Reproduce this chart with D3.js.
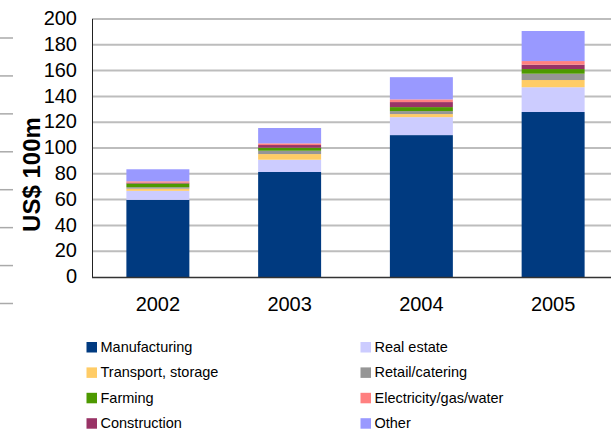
<!DOCTYPE html>
<html><head><meta charset="utf-8">
<script src="https://cdn.jsdelivr.net/npm/d3@7"></script>
<style>html,body{margin:0;padding:0;background:#fff;overflow:hidden}svg{display:block;font-family:"Liberation Sans",Arial,sans-serif}</style>
</head><body><svg id="c" width="611" height="432"></svg>
<script>
const years = ["2002", "2003", "2004", "2005"];
const manufacturing = [59.8, 81.4, 110.0, 127.9];
const realEstate = [7.0, 9.5, 13.9, 19.2];
const transport = [1.7, 4.4, 2.4, 5.6];
const retail = [1.1, 2.6, 2.3, 4.9];
const farming = [2.9, 2.3, 3.1, 3.6];
const construction = [0.6, 2.1, 3.9, 3.4];
const electricity = [1.1, 1.3, 2.1, 2.8];
const other = [9.3, 11.9, 17.2, 23.3];
const yTicks = [0, 20, 40, 60, 80, 100, 120, 140, 160, 180, 200];
const seriesNames = ["Manufacturing", "Real estate", "Transport, storage", "Retail/catering", "Farming", "Construction", "Electricity/gas/water", "Other"];
const seriesColors = ["#003a80", "#ccccff", "#ffcc66", "#969696", "#4d9900", "#993366", "#ff8080", "#9999ff"];
const legendOrder = ["Manufacturing", "Real estate", "Transport, storage", "Retail/catering", "Farming", "Electricity/gas/water", "Construction", "Other"];
const seriesValues = [manufacturing, realEstate, transport, retail, farming, construction, electricity, other];

const svg = d3.select("#c");
const rows = years.map((yr, i) => {
  const r = {year: yr};
  seriesNames.forEach((n, k) => r[n] = seriesValues[k][i]);
  return r;
});
const stacked = d3.stack().keys(seriesNames)(rows);
const color = d3.scaleOrdinal(seriesNames, seriesColors);

const pLeft = 92, pTop = 19, pBottom = 277, pRight = 619;
const x = d3.scaleBand(years, [pLeft, pRight]).paddingInner(0.522).paddingOuter(0.261);
const y = d3.scaleLinear([0, 200], [pBottom, pTop]);

// phantom ticks at left edge
const ph = d3.scaleLinear([0, 7], [38, 303.5]);
svg.append("g").selectAll("line").data(d3.range(8)).join("line")
  .attr("x1", 0).attr("x2", 13).attr("y1", d => ph(d)).attr("y2", d => ph(d))
  .attr("stroke", "#aaa").attr("stroke-width", 1.5);

// gridlines
svg.append("g").selectAll("line").data(yTicks.filter(t => t > 0)).join("line")
  .attr("x1", pLeft).attr("x2", 611).attr("y1", d => y(d)).attr("y2", d => y(d))
  .attr("stroke", "#bdbdbd").attr("stroke-width", 2);

// bars
svg.append("g").selectAll("g").data(stacked).join("g")
  .attr("fill", d => color(d.key))
  .selectAll("rect").data(d => d).join("rect")
  .attr("x", d => x(d.data.year)).attr("width", x.bandwidth())
  .attr("y", d => y(d[1])).attr("height", d => y(d[0]) - y(d[1]));

// y axis
const ya = svg.append("g").attr("transform", `translate(${pLeft},0)`)
  .call(d3.axisLeft(y).tickValues(yTicks).tickSize(0).tickPadding(15));
ya.select(".domain").attr("stroke", "#222").attr("stroke-width", 1).attr("d", `M0.5,${pTop}V${pBottom}`);
ya.selectAll("text").attr("font-size", 20).attr("fill", "#000").attr("font-family", "Liberation Sans, Arial, sans-serif").attr("dy", "0.28em");

// x axis
const xa = svg.append("g").attr("transform", `translate(0,${pBottom})`)
  .call(d3.axisBottom(x).tickSize(0).tickPadding(20));
xa.select(".domain").attr("stroke", "#333").attr("stroke-width", 1.5).attr("d", `M${pLeft},0.5H611`);
xa.selectAll("text").attr("font-size", 20).attr("fill", "#000").attr("font-family", "Liberation Sans, Arial, sans-serif");

// y title
svg.append("text").attr("transform", "translate(39.5,174.5) rotate(-90)")
  .attr("text-anchor", "middle").attr("font-size", 24).attr("font-weight", "bold")
  .text("US$ 100m");

// legend
const lg = svg.append("g").selectAll("g").data(legendOrder).join("g")
  .attr("transform", (d, i) => `translate(${i % 2 === 0 ? 86.5 : 360.5},${347 + Math.floor(i / 2) * 25.4})`);
lg.append("rect").attr("x", 0).attr("y", -5).attr("width", 10.5).attr("height", 10.5).attr("fill", d => color(d));
lg.append("text").attr("x", 14).attr("dy", "0.35em").attr("font-size", 14.5).attr("fill", "#000").text(d => d);
</script></body></html>
